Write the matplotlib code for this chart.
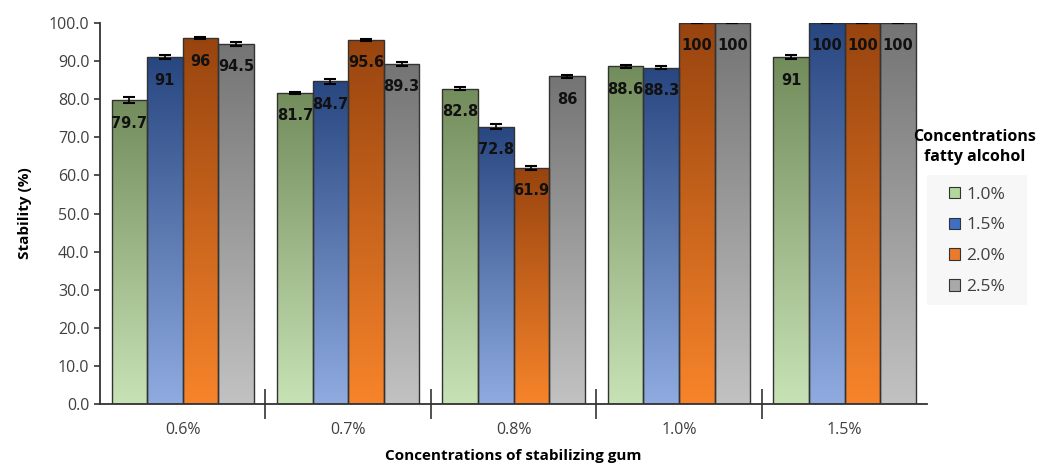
import numpy as np
import matplotlib
matplotlib.use("Agg")
import matplotlib.pyplot as plt
from matplotlib.colors import LinearSegmentedColormap
from matplotlib.patches import Patch, Rectangle

plt.rcParams['font.family'] = ['Open Sans', 'DejaVu Sans']

categories = ['0.6%', '0.7%', '0.8%', '1.0%', '1.5%']
series_names = ['1.0%', '1.5%', '2.0%', '2.5%']
values = {
    '1.0%': [79.7, 81.7, 82.8, 88.6, 91],
    '1.5%': [91, 84.7, 72.8, 88.3, 100],
    '2.0%': [96, 95.6, 61.9, 100, 100],
    '2.5%': [94.5, 89.3, 86, 100, 100],
}
errors = {
    '1.0%': [0.8, 0.3, 0.5, 0.4, 0.5],
    '1.5%': [0.5, 0.7, 0.7, 0.3, 0.1],
    '2.0%': [0.2, 0.3, 0.6, 0.1, 0.1],
    '2.5%': [0.4, 0.5, 0.3, 0.1, 0.1],
}
labels = {
    '1.0%': ['79.7', '81.7', '82.8', '88.6', '91'],
    '1.5%': ['91', '84.7', '72.8', '88.3', '100'],
    '2.0%': ['96', '95.6', '61.9', '100', '100'],
    '2.5%': ['94.5', '89.3', '86', '100', '100'],
}
yticks = np.arange(0, 101, 10)

grad_top = ['#738c5c', '#284680', '#98440f', '#747474']
grad_bot = ['#c7e2b5', '#8fabe0', '#f7842a', '#c2c2c2']
legend_cols = ['#b4d59c', '#3f6fc4', '#ea7a2c', '#a9a9a9']

fig = plt.figure(figsize=(10.38, 4.65), dpi=100)
ax = fig.add_axes([0.0963, 0.131, 0.797, 0.8195])

n = len(series_names)
x = np.arange(len(categories))
w = 0.215
grad = np.linspace(0, 1, 256).reshape(-1, 1)
for i, s in enumerate(series_names):
    pos = x + (i - (n - 1) / 2) * w
    bars = ax.bar(pos, values[s], w, facecolor='none', edgecolor='#333333', linewidth=1.0, zorder=3)
    cmap = LinearSegmentedColormap.from_list('g%d' % i, [grad_bot[i], grad_top[i]])
    for b in bars:
        x0 = b.get_x()
        bw, bh = b.get_width(), b.get_height()
        im = ax.imshow(grad, extent=[x0, x0 + bw, 0, bh], origin='lower', aspect='auto',
                       cmap=cmap, zorder=2, interpolation='bilinear')
        im.set_clip_path(b)
    ax.errorbar(pos, values[s], yerr=errors[s], fmt='none', ecolor='black',
                elinewidth=1.2, capsize=4, capthick=1.5, zorder=4)
    for px, v, lab in zip(pos, values[s], labels[s]):
        ax.text(px, v - 4.0, lab, ha='center', va='top', fontsize=10.5,
                fontweight='bold', color='#111111', zorder=5, family='DejaVu Sans')

ax.set_xlim(-0.5, len(categories) - 0.5)
ax.set_ylim(0, 100)
ax.set_yticks(yticks)
ax.set_yticklabels(['%.1f' % t for t in yticks], fontsize=11.5, color='#404040')
ax.set_xticks(x)
ax.set_xticklabels(categories, fontsize=11.5, color='#404040')
ax.tick_params(axis='x', which='major', length=0, pad=13)
ax.set_xticks(np.arange(0.5, len(categories) - 1, 1), minor=True)
ax.tick_params(axis='x', which='minor', direction='inout', length=22, width=1.2, color='#333333')
ax.tick_params(axis='y', direction='out', length=4, width=1.2, color='#333333')
for sp in ['top', 'right']:
    ax.spines[sp].set_visible(False)
for sp in ['left', 'bottom']:
    ax.spines[sp].set_color('#333333')
    ax.spines[sp].set_linewidth(1.3)

ax.set_ylabel('Stability (%)', fontsize=11, fontweight='bold', labelpad=12)
ax.set_xlabel('Concentrations of stabilizing gum', fontsize=11, fontweight='bold', labelpad=8)

fig.patches.append(Rectangle((0.893, 0.344), 0.0963, 0.28, transform=fig.transFigure,
                             facecolor='#f7f7f7', edgecolor='none', zorder=0))
handles = [Patch(facecolor=legend_cols[i], edgecolor='#333333', linewidth=0.8) for i in range(n)]
leg = fig.legend(handles, series_names, loc='center', bbox_to_anchor=(0.941, 0.482),
                 frameon=False, fontsize=12.5, handlelength=0.65, handleheight=0.65,
                 labelspacing=0.85, handletextpad=0.35, borderpad=0)
for t in leg.get_texts():
    t.set_color('#404040')
fig.text(0.939, 0.684, 'Concentrations\nfatty alcohol', ha='center', va='center',
         fontsize=11.5, fontweight='bold', linespacing=1.3)

fig.savefig('out.png', dpi=100)
